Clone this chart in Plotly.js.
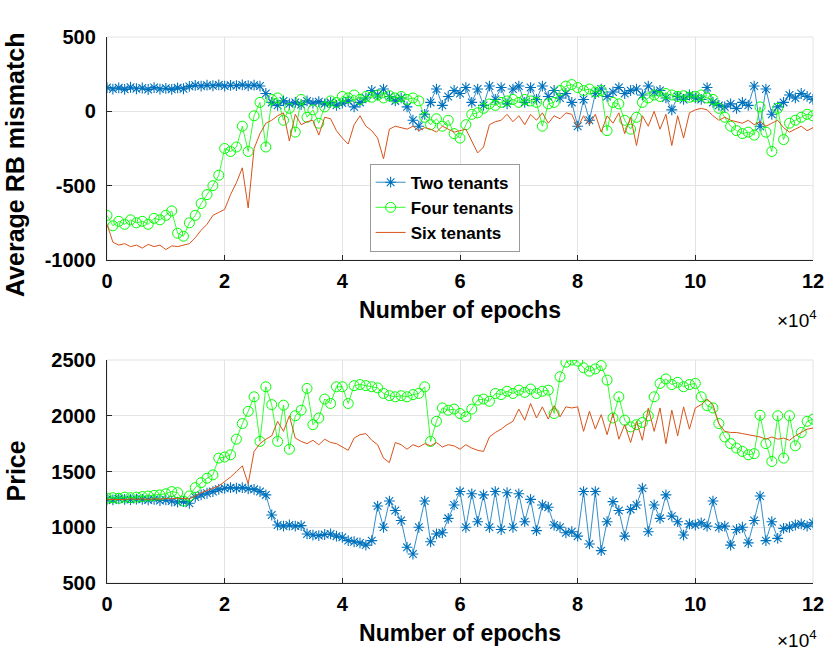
<!DOCTYPE html>
<html>
<head>
<meta charset="utf-8">
<script src="https://cdn.plot.ly/plotly-3.0.1.min.js"></script>
<style>html,body{margin:0;padding:0;background:#fff;}#chart{width:830px;height:650px;}</style>
</head>
<body>
<div id="chart"></div>
<script>
var epochs = [
0,1000,2000,3000,4000,5000,6000,7000,8000,9000,
10000,11000,12000,13000,14000,15000,16000,17000,18000,19000,
20000,21000,22000,23000,24000,25000,26000,27000,28000,29000,
30000,31000,32000,33000,34000,35000,36000,37000,38000,39000,
40000,41000,42000,43000,44000,45000,46000,47000,48000,49000,
50000,51000,52000,53000,54000,55000,56000,57000,58000,59000,
60000,61000,62000,63000,64000,65000,66000,67000,68000,69000,
70000,71000,72000,73000,74000,75000,76000,77000,78000,79000,
80000,81000,82000,83000,84000,85000,86000,87000,88000,89000,
90000,91000,92000,93000,94000,95000,96000,97000,98000,99000,
100000,101000,102000,103000,104000,105000,106000,107000,108000,109000,
110000,111000,112000,113000,114000,115000,116000,117000,118000,119000,
120000];

var seriesNames = ["Two tenants", "Four tenants", "Six tenants"];

var twoMismatch = [
160,150,158,148,162,152,157,147,160,150,
155,148,158,152,168,175,170,176,172,178,
170,175,173,178,172,176,170,120,60,40,
70,50,60,45,70,55,65,50,60,40,
55,70,30,60,90,140,110,150,100,70,
90,30,-60,-100,-20,60,150,40,100,140,
120,160,60,150,40,170,80,160,50,150,
170,60,160,80,170,100,140,90,120,60,
-100,80,-60,120,150,100,130,160,120,140,
150,110,170,130,140,90,10,100,80,110,
90,80,160,60,40,30,50,20,60,40,
170,-100,150,-20,30,60,110,90,120,100,
80];

var fourMismatch = [
-700,-770,-740,-760,-730,-750,-740,-760,-720,-730,
-700,-670,-820,-840,-750,-700,-620,-560,-500,-430,
-250,-270,-240,-100,-270,-30,60,-240,80,90,
-60,20,-140,80,-40,10,-80,30,70,60,
100,90,110,80,100,95,110,90,105,90,
100,80,90,70,-40,-90,-50,-100,-60,-150,
-180,-90,-20,-10,20,50,40,60,70,80,
60,80,70,60,-100,50,60,140,170,180,
160,140,150,130,140,-130,60,50,-60,-120,
-40,60,90,110,100,120,110,100,105,95,
100,110,90,80,20,-40,-100,-130,-150,-140,
-160,30,-140,-270,20,-190,-80,-60,-40,-20,
-30];

var sixMismatch = [
-760,-880,-900,-890,-910,-900,-920,-895,-910,-900,
-930,-905,-910,-900,-890,-850,-800,-760,-700,-680,
-660,-560,-480,-380,-650,-250,-150,-80,-60,-30,
-10,-200,-20,-90,-70,-60,-160,-40,-50,-130,
-180,-220,-90,-30,-100,-130,-180,-320,-120,-100,
-110,-120,-100,-130,-110,-120,-140,-100,-120,-140,
-130,-120,-200,-280,-240,-90,-70,-60,-20,-70,
-30,-90,-20,-60,-10,-80,-30,-50,-10,-20,
-110,-30,-90,-20,-140,-30,-80,-10,-150,-40,
-230,-30,-100,0,-120,-20,-230,-30,-180,-10,
10,20,10,-30,-60,-40,-60,-70,-80,-60,
-90,-70,-100,-80,-60,-110,-140,-120,-100,-130,
-110];

var twoPrice = [
1250,1245,1255,1250,1248,1252,1250,1245,1250,1240,
1245,1235,1225,1230,1215,1270,1290,1305,1320,1340,
1350,1355,1350,1355,1345,1340,1320,1290,1110,1020,
1010,1020,1010,1015,940,930,925,935,940,920,
910,880,870,860,840,880,1190,1000,1235,1150,
1060,820,760,1000,1235,870,940,950,1080,1200,
1320,1000,1300,1050,1290,1000,1320,980,1310,1000,
1300,1050,1250,970,1200,1180,1020,1000,950,960,
920,1320,850,1320,790,1050,1230,1150,920,1160,
1200,1350,960,1200,1080,1290,1100,1050,930,1030,
1020,1040,1010,1235,1000,1010,840,980,1000,860,
1060,1280,880,1050,900,990,1000,1020,1030,1010,
1040];

var fourPrice = [
1260,1265,1260,1270,1265,1270,1275,1280,1285,1290,
1300,1320,1310,1235,1280,1355,1400,1440,1470,1620,
1630,1650,1790,1930,2040,2170,1770,2260,2100,1770,
2095,1700,2000,2050,2245,1920,1980,2150,2110,2260,
2260,2110,2270,2280,2270,2260,2250,2200,2180,2170,
2180,2170,2190,2200,2260,1770,1950,2070,2050,2060,
2020,1990,2060,2140,2150,2130,2200,2190,2220,2200,
2230,2210,2240,2200,2220,2230,2020,2350,2480,2500,
2490,2430,2400,2420,2450,2320,1980,2170,1960,1900,
1920,1940,2000,2170,2290,2330,2280,2300,2260,2280,
2290,2170,2090,2070,1930,1810,1750,1710,1680,1650,
1660,2005,1750,1590,2000,1620,2000,1730,1850,1950,
1970];

var sixPrice = [
1250,1250,1252,1248,1255,1250,1255,1250,1255,1252,
1258,1255,1260,1255,1255,1280,1310,1330,1350,1370,
1410,1450,1500,1550,1390,1680,1750,1790,1820,1950,
1860,2000,1800,1770,1750,1780,1740,1790,1760,1750,
1720,1690,1800,1830,1840,1780,1740,1620,1580,1760,
1740,1700,1740,1720,1750,1730,1760,1720,1740,1730,
1700,1740,1710,1690,1680,1810,1850,1880,1920,1950,
2060,1960,2110,1980,2080,1970,2090,1990,2080,2070,
2080,1860,2040,1880,2010,1830,2020,1790,1920,1760,
1950,1780,2070,1860,2070,1750,2050,1820,2080,1880,
2070,2100,2150,2100,1930,1860,1850,1850,1840,1830,
1820,1810,1790,1810,1790,1800,1780,1820,1850,1880,
1890];

var xTickVals = [0, 20000, 40000, 60000, 80000, 100000, 120000];
var xTickText = ["0", "2", "4", "6", "8", "10", "12"];
var mismatchTicks = [-1000, -500, 0, 500];
var mismatchTickText = ["-1000", "-500", "0", "500"];
var priceTicks = [500, 1000, 1500, 2000, 2500];

var blue = "#0072BD", green = "#00FF00", orange = "#D95319";
var fam = "Liberation Sans, Arial, sans-serif";

function twoTrace(y, xa, ya, show) {
  return {x: epochs, y: y, xaxis: xa, yaxis: ya, name: seriesNames[0], showlegend: show,
    type: "scatter", mode: "lines+markers",
    line: {color: blue, width: 0.8},
    marker: {symbol: "asterisk-open", size: 9, color: blue, line: {color: blue, width: 1.1}}};
}
function fourTrace(y, xa, ya, show) {
  return {x: epochs, y: y, xaxis: xa, yaxis: ya, name: seriesNames[1], showlegend: show,
    type: "scatter", mode: "lines+markers",
    line: {color: green, width: 0.8},
    marker: {symbol: "circle-open", size: 10, color: green, line: {color: green, width: 1}}};
}
function sixTrace(y, xa, ya, show) {
  return {x: epochs, y: y, xaxis: xa, yaxis: ya, name: seriesNames[2], showlegend: show,
    type: "scatter", mode: "lines",
    line: {color: orange, width: 1}};
}

var data = [
  twoTrace(twoMismatch, "x", "y", true),
  fourTrace(fourMismatch, "x", "y", true),
  sixTrace(sixMismatch, "x", "y", true),
  twoTrace(twoPrice, "x2", "y2", false),
  fourTrace(fourPrice, "x2", "y2", false),
  sixTrace(sixPrice, "x2", "y2", false)
];

var tickFont = {family: fam, size: 20, color: "#000", weight: "bold"};
var xTitleFont = {family: fam, size: 23, color: "#000", weight: "bold"};
var yTitleFont = {family: fam, size: 25, color: "#000", weight: "bold"};

function xAxis(anchor) {
  return {anchor: anchor, range: [0, 120000], tickvals: xTickVals, ticktext: xTickText,
    ticks: "inside", ticklen: 5, tickcolor: "#262626", tickwidth: 1,
    showline: true, linecolor: "#262626", linewidth: 1.2,
    showgrid: true, gridcolor: "#e3e3e3", gridwidth: 1, zeroline: false,
    tickfont: tickFont, ticklabelstandoff: 3,
    title: {text: "Number of epochs", font: xTitleFont, standoff: 10}};
}

var layout = {
  width: 830, height: 650,
  margin: {l: 107, r: 17, t: 37, b: 67},
  paper_bgcolor: "#fff", plot_bgcolor: "#fff",
  showlegend: true,
  xaxis: xAxis("y"),
  xaxis2: xAxis("y2"),
  yaxis: {domain: [0.5916, 1], anchor: "x", range: [-1000, 500], tickvals: mismatchTicks,
    ticktext: mismatchTickText,
    ticks: "inside", ticklen: 5, tickcolor: "#262626",
    showline: true, linecolor: "#262626", linewidth: 1.2,
    showgrid: true, gridcolor: "#e3e3e3", zeroline: false,
    tickfont: tickFont, ticklabelstandoff: 6},
  yaxis2: {domain: [0, 0.4084], anchor: "x2", range: [500, 2500], tickvals: priceTicks,
    ticks: "inside", ticklen: 5, tickcolor: "#262626",
    showline: true, linecolor: "#262626", linewidth: 1.2,
    showgrid: true, gridcolor: "#e3e3e3", zeroline: false,
    tickfont: tickFont, ticklabelstandoff: 6},
  legend: {x: 0.372, y: 0.768, xanchor: "left", yanchor: "top",
    bgcolor: "#fff", bordercolor: "#9a9a9a", borderwidth: 1,
    font: {family: fam, size: 17, color: "#000", weight: "bold"},
    tracegroupgap: 0, itemwidth: 30},
  shapes: [
    {type: "rect", xref: "paper", yref: "paper", x0: 0, x1: 1, y0: 0.5916, y1: 1,
     line: {color: "#e3e3e3", width: 1}, layer: "below"},
    {type: "rect", xref: "paper", yref: "paper", x0: 0, x1: 1, y0: 0, y1: 0.4084,
     line: {color: "#e3e3e3", width: 1}, layer: "below"}
  ],
  annotations: [
    {xref: "paper", yref: "paper", x: -0.1303, y: 0.7656, xanchor: "center", yanchor: "middle",
     textangle: -90, text: "Average RB mismatch", showarrow: false, font: yTitleFont},
    {xref: "paper", yref: "paper", x: -0.1303, y: 0.2042, xanchor: "center", yanchor: "middle",
     textangle: -90, text: "Price", showarrow: false, font: yTitleFont},
    {xref: "paper", yref: "paper", x: 1.008, y: 0.5916, yshift: -45, xanchor: "right", yanchor: "top",
     text: "\u00d710<sup>4</sup>", showarrow: false,
     font: {family: fam, size: 19, color: "#000"}},
    {xref: "paper", yref: "paper", x: 1.008, y: 0, yshift: -42, xanchor: "right", yanchor: "top",
     text: "\u00d710<sup>4</sup>", showarrow: false,
     font: {family: fam, size: 19, color: "#000"}}
  ]
};

Plotly.newPlot("chart", data, layout, {displayModeBar: false, staticPlot: true});
</script>
</body>
</html>
